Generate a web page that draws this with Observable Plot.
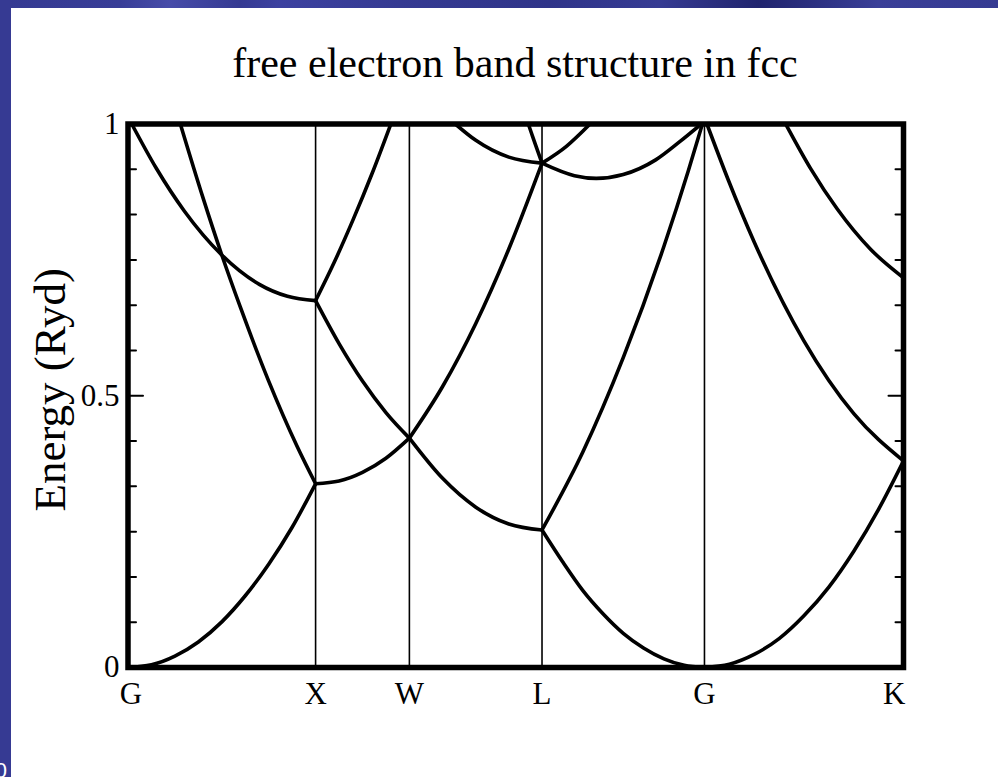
<!DOCTYPE html>
<html>
<head>
<meta charset="utf-8">
<script src="https://cdn.jsdelivr.net/npm/d3@7"></script>
<script src="https://cdn.jsdelivr.net/npm/@observablehq/plot@0.6"></script>
<style>
  html, body { margin: 0; padding: 0; background: #fff; }
  #page { position: relative; width: 998px; height: 777px; overflow: hidden; background: #fff;
          font-family: "Liberation Serif", "Times New Roman", serif; }
  #chart { position: absolute; left: 0; top: 0; }
  #band-top { position: absolute; left: 0; top: 0; width: 998px; height: 8px;
    background: linear-gradient(90deg, #353a92 0%, #383d97 12%, #474ca9 17%, #353a92 24%, #3c41a0 28%,
      #353a92 40%, #2f3489 55%, #363b93 66%, #292d7c 72%, #20246e 76%, #2c3182 82%, #3a3f98 88%, #353a92 100%); }
  #band-left { position: absolute; left: 0; top: 0; width: 11px; height: 777px; background: #363a93; }
  #slide-no { position: absolute; left: -33px; width: 40px; top: 760px; text-align: right;
              font-family: "Liberation Sans", Arial, sans-serif; font-size: 22px; line-height: 22px; color: #fff; }
  #title { position: absolute; left: 127px; width: 776px; top: 42px; text-align: center;
           font-size: 42px; line-height: 42px; color: #000; white-space: nowrap; }
</style>
</head>
<body>
<div id="page">
  <div id="chart"></div>
  <div id="title">free electron band structure in fcc</div>
  <div id="band-top"></div>
  <div id="band-left"></div>
  <div id="slide-no">10</div>
</div>
<script>
// High-symmetry points along the path (distance in units of 2π/a)
const kTicks = [0, 1, 1.5, 2.207, 3.073, 4.134];
const kLabels = ["G", "X", "W", "L", "G", "K"];

// Energy axis ticks (Ryd)
const yMajor = [0, 0.5, 1];
const yMinor = [0.0833, 0.1667, 0.25, 0.3333, 0.4167, 0.5833, 0.6667, 0.75, 0.8333, 0.9167];

// Band branches, [k, E] pairs; branches leaving the window end at E = 1
// G–X
const gx1 = [[0, 0], [0.125, 0.005], [0.25, 0.021], [0.375, 0.047], [0.5, 0.084], [0.625, 0.132], [0.75, 0.19], [0.875, 0.258], [1, 0.338]];
const gx2 = [[0.279, 1.0], [0.4, 0.864], [0.5, 0.759], [0.6, 0.662], [0.75, 0.527], [0.9, 0.408], [1, 0.338]];
const gx3 = [[0.02, 1.0], [0.15, 0.919], [0.3, 0.84], [0.5, 0.759], [0.7, 0.705], [0.85, 0.683], [1, 0.675]];
// X–W
const xw1 = [[1, 0.338], [1.125, 0.343], [1.25, 0.359], [1.375, 0.385], [1.5, 0.422]];
const xw2 = [[1, 0.675], [1.125, 0.596], [1.25, 0.527], [1.375, 0.469], [1.5, 0.422]];
const xw3 = [[1, 0.675], [1.1, 0.746], [1.2, 0.824], [1.3, 0.908], [1.401, 1.0]];
// W–L
const wl1 = [[1.5, 0.422], [1.677, 0.348], [1.854, 0.295], [2.03, 0.264], [2.207, 0.253]];
const wl2 = [[1.5, 0.422], [1.677, 0.517], [1.854, 0.633], [2.03, 0.77], [2.207, 0.928]];
const wl3 = [[1.745, 1.0], [1.854, 0.97], [2.03, 0.939], [2.207, 0.928]];
const wl4 = [[2.134, 1.0], [2.151, 0.983], [2.172, 0.962], [2.207, 0.928]];
// L–G
const lg1 = [[2.207, 0.253], [2.316, 0.195], [2.424, 0.142], [2.532, 0.099], [2.64, 0.063], [2.748, 0.036], [2.857, 0.016], [2.965, 0.004], [3.073, 0]];
const lg2 = [[2.207, 0.253], [2.424, 0.396], [2.64, 0.57], [2.857, 0.775], [2.987, 0.914], [3.062, 1.0]];
const lg3 = [[2.207, 0.928], [2.337, 0.959], [2.463, 1.0]];
const lg4 = [[2.207, 0.928], [2.38, 0.905], [2.496, 0.9], [2.64, 0.907], [2.813, 0.934], [2.943, 0.968], [3.056, 1.0]];
// G–K
const gk1 = [[3.073, 0], [3.206, 0.006], [3.338, 0.024], [3.471, 0.053], [3.603, 0.095], [3.736, 0.148], [3.869, 0.214], [4.001, 0.291], [4.134, 0.38]];
const gk2 = [[3.086, 1.0], [3.2, 0.897], [3.338, 0.783], [3.603, 0.601], [3.869, 0.467], [4.134, 0.38]];
const gk3 = [[3.506, 1.0], [3.639, 0.918], [3.78, 0.844], [3.957, 0.77], [4.134, 0.717]];

const branches = {gx1, gx2, gx3, xw1, xw2, xw3, wl1, wl2, wl3, wl4, lg1, lg2, lg3, lg4, gk1, gk2, gk3};
const bandRows = Object.entries(branches).flatMap(([branch, pts]) =>
  pts.map(([k, E]) => ({branch, k, E})));

const tickRows = kTicks.map((k, i) => ({k, name: kLabels[i]}));

// Short tick strokes drawn inward from the frame
const tickRight = {draw(ctx, l) { ctx.moveTo(0, 0); ctx.lineTo(l, 0); }};
const tickLeft = {draw(ctx, l) { ctx.moveTo(0, 0); ctx.lineTo(-l, 0); }};

const serif = "Liberation Serif, Times New Roman, serif";
const labelOpts = {x: "k", text: "name", frameAnchor: "bottom", lineAnchor: "top", dy: 14, fontSize: 31, fill: "black"};

const chart = Plot.plot({
  width: 998,
  height: 777,
  marginLeft: 127.5,
  marginRight: 95,
  marginTop: 123.5,
  marginBottom: 110,
  style: {background: "transparent", fontFamily: serif, color: "black", overflow: "visible"},
  x: {domain: [0, kTicks[kTicks.length - 1]], axis: null},
  y: {domain: [0, 1], axis: null},
  marks: [
    Plot.ruleX(kTicks.slice(1, -1), {stroke: "black", strokeWidth: 1.6}),
    Plot.line(bandRows, {x: "k", y: "E", z: "branch", curve: "monotone-x",
      stroke: "black", strokeWidth: 3.6, clip: true}),
    // inward ticks, left and right
    Plot.vector(yMinor, {y: d => d, frameAnchor: "left", length: 8, anchor: "start", shape: tickRight, stroke: "black", strokeWidth: 2}),
    Plot.vector(yMajor, {y: d => d, frameAnchor: "left", length: 15, anchor: "start", shape: tickRight, stroke: "black", strokeWidth: 2}),
    Plot.vector(yMinor, {y: d => d, frameAnchor: "right", length: 8, anchor: "start", shape: tickLeft, stroke: "black", strokeWidth: 2}),
    Plot.vector(yMajor, {y: d => d, frameAnchor: "right", length: 15, anchor: "start", shape: tickLeft, stroke: "black", strokeWidth: 2}),
    Plot.frame({stroke: "black", strokeWidth: 5.5}),
    // energy tick labels
    Plot.text(yMajor, {y: d => d, text: d => String(d), frameAnchor: "left", textAnchor: "end", dx: -8.5, fontSize: 31, fill: "black"}),
    // k-point labels
    Plot.text(tickRows.slice(1, -1), labelOpts),
    Plot.text(tickRows.slice(0, 1), {...labelOpts, dx: 3}),
    Plot.text(tickRows.slice(-1), {...labelOpts, textAnchor: "end", dx: 2}),
    // axis title
    Plot.text(["Energy (Ryd)"], {text: d => d, frameAnchor: "left", textAnchor: "middle", rotate: -90,
      dx: -77, dy: -6, fontSize: 45, fill: "black"})
  ]
});
document.getElementById("chart").appendChild(chart);
</script>
</body>
</html>
